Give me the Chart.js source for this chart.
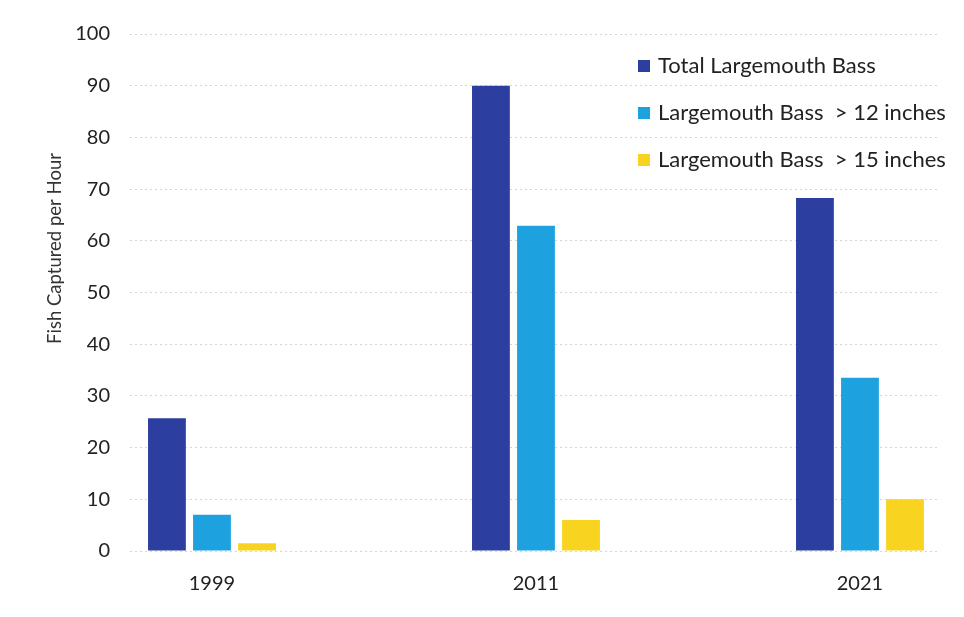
<!DOCTYPE html>
<html>
<head>
<meta charset="utf-8">
<script src="https://cdn.jsdelivr.net/npm/chart.js@4.4.1/dist/chart.umd.min.js"></script>
<style>
  html, body { margin: 0; padding: 0; background: #fff; }
  #wrap { width: 964px; height: 617px; }
</style>
</head>
<body>
<div id="wrap"><canvas id="myChart"></canvas></div>
<script>
// values
const years = ['1999', '2011', '2021'];
const totalBass = [25.7, 90, 68.3];
const bassOver12 = [7, 62.9, 33.5];
const bassOver15 = [1.5, 6, 10];
const yTicks = [0, 10, 20, 30, 40, 50, 60, 70, 80, 90, 100];

const seriesNames = ['Total Largemouth Bass', 'Largemouth Bass  > 12 inches', 'Largemouth Bass  > 15 inches'];
const seriesColors = ['#2c3e9f', '#1ea2df', '#f8d320'];

const fontFamily = 'Lato, "Open Sans", sans-serif';

function toPoints(vals) {
    return vals.map(function (v, i) { return { x: i, y: v }; });
}

// legend sits inside the plot, top right, like the original
const insideLegend = {
    id: 'insideLegend',
    afterDraw(chart) {
        const c = chart.ctx;
        c.save();
        c.font = '22px ' + fontFamily;
        c.textBaseline = 'middle';
        c.textAlign = 'left';
        chart.data.datasets.forEach(function (ds, i) {
            const y = 66 + i * 47;
            c.fillStyle = ds.backgroundColor;
            c.fillRect(638, y - 6, 12, 12);
            c.fillStyle = '#222';
            c.fillText(ds.label, 658, y);
        });
        c.restore();
    }
};

const ctx = document.getElementById('myChart');

new Chart(ctx, {
    type: 'bar',
    data: {
        datasets: [{
            label: seriesNames[0],
            backgroundColor: seriesColors[0],
            data: toPoints(totalBass)
        }, {
            label: seriesNames[1],
            backgroundColor: seriesColors[1],
            data: toPoints(bassOver12)
        }, {
            label: seriesNames[2],
            backgroundColor: seriesColors[2],
            data: toPoints(bassOver15)
        }]
    },
    options: {
        responsive: true,
        maintainAspectRatio: false,
        animation: false,
        categoryPercentage: 0.417,
        barPercentage: 0.84,
        layout: {
            padding: { top: 34, right: 24, left: 0, bottom: 0 }
        },
        plugins: {
            legend: { display: false },
            tooltip: { enabled: false }
        },
        scales: {
            x: {
                type: 'linear',
                min: -0.253,
                max: 2.247,
                offset: false,
                afterBuildTicks: function (scale) {
                    scale.ticks = years.map(function (y, i) { return { value: i }; });
                },
                afterFit: function (scale) { scale.height = 66; },
                grid: { display: false, drawTicks: false },
                border: { display: false },
                ticks: {
                    padding: 21,
                    color: '#222',
                    font: { family: fontFamily, size: 20 },
                    callback: function (v) { return years[v]; }
                }
            },
            y: {
                min: 0,
                max: 100,
                afterBuildTicks: function (scale) {
                    scale.ticks = yTicks.map(function (v) { return { value: v }; });
                },
                afterFit: function (scale) {
                    scale.width = 130;
                    // the original title sits a bit above the middle of the axis
                    if (!scale._titleShifted) {
                        const drawTitle = scale.drawTitle;
                        scale.drawTitle = function () {
                            this.ctx.save();
                            this.ctx.translate(0, -44);
                            drawTitle.call(this);
                            this.ctx.restore();
                        };
                        scale._titleShifted = true;
                    }
                },
                grid: {
                    color: 'rgba(0,0,0,0.16)',
                    drawTicks: false
                },
                border: { display: false, dash: [2, 3] },
                ticks: {
                    padding: 20,
                    color: '#222',
                    font: { family: fontFamily, size: 20 }
                },
                title: {
                    display: true,
                    text: 'Fish Captured per Hour',
                    color: '#333',
                    font: { family: fontFamily, size: 18.5 },
                    padding: { top: 44, bottom: 0 }
                }
            }
        }
    },
    plugins: [insideLegend]
});
</script>
</body>
</html>
